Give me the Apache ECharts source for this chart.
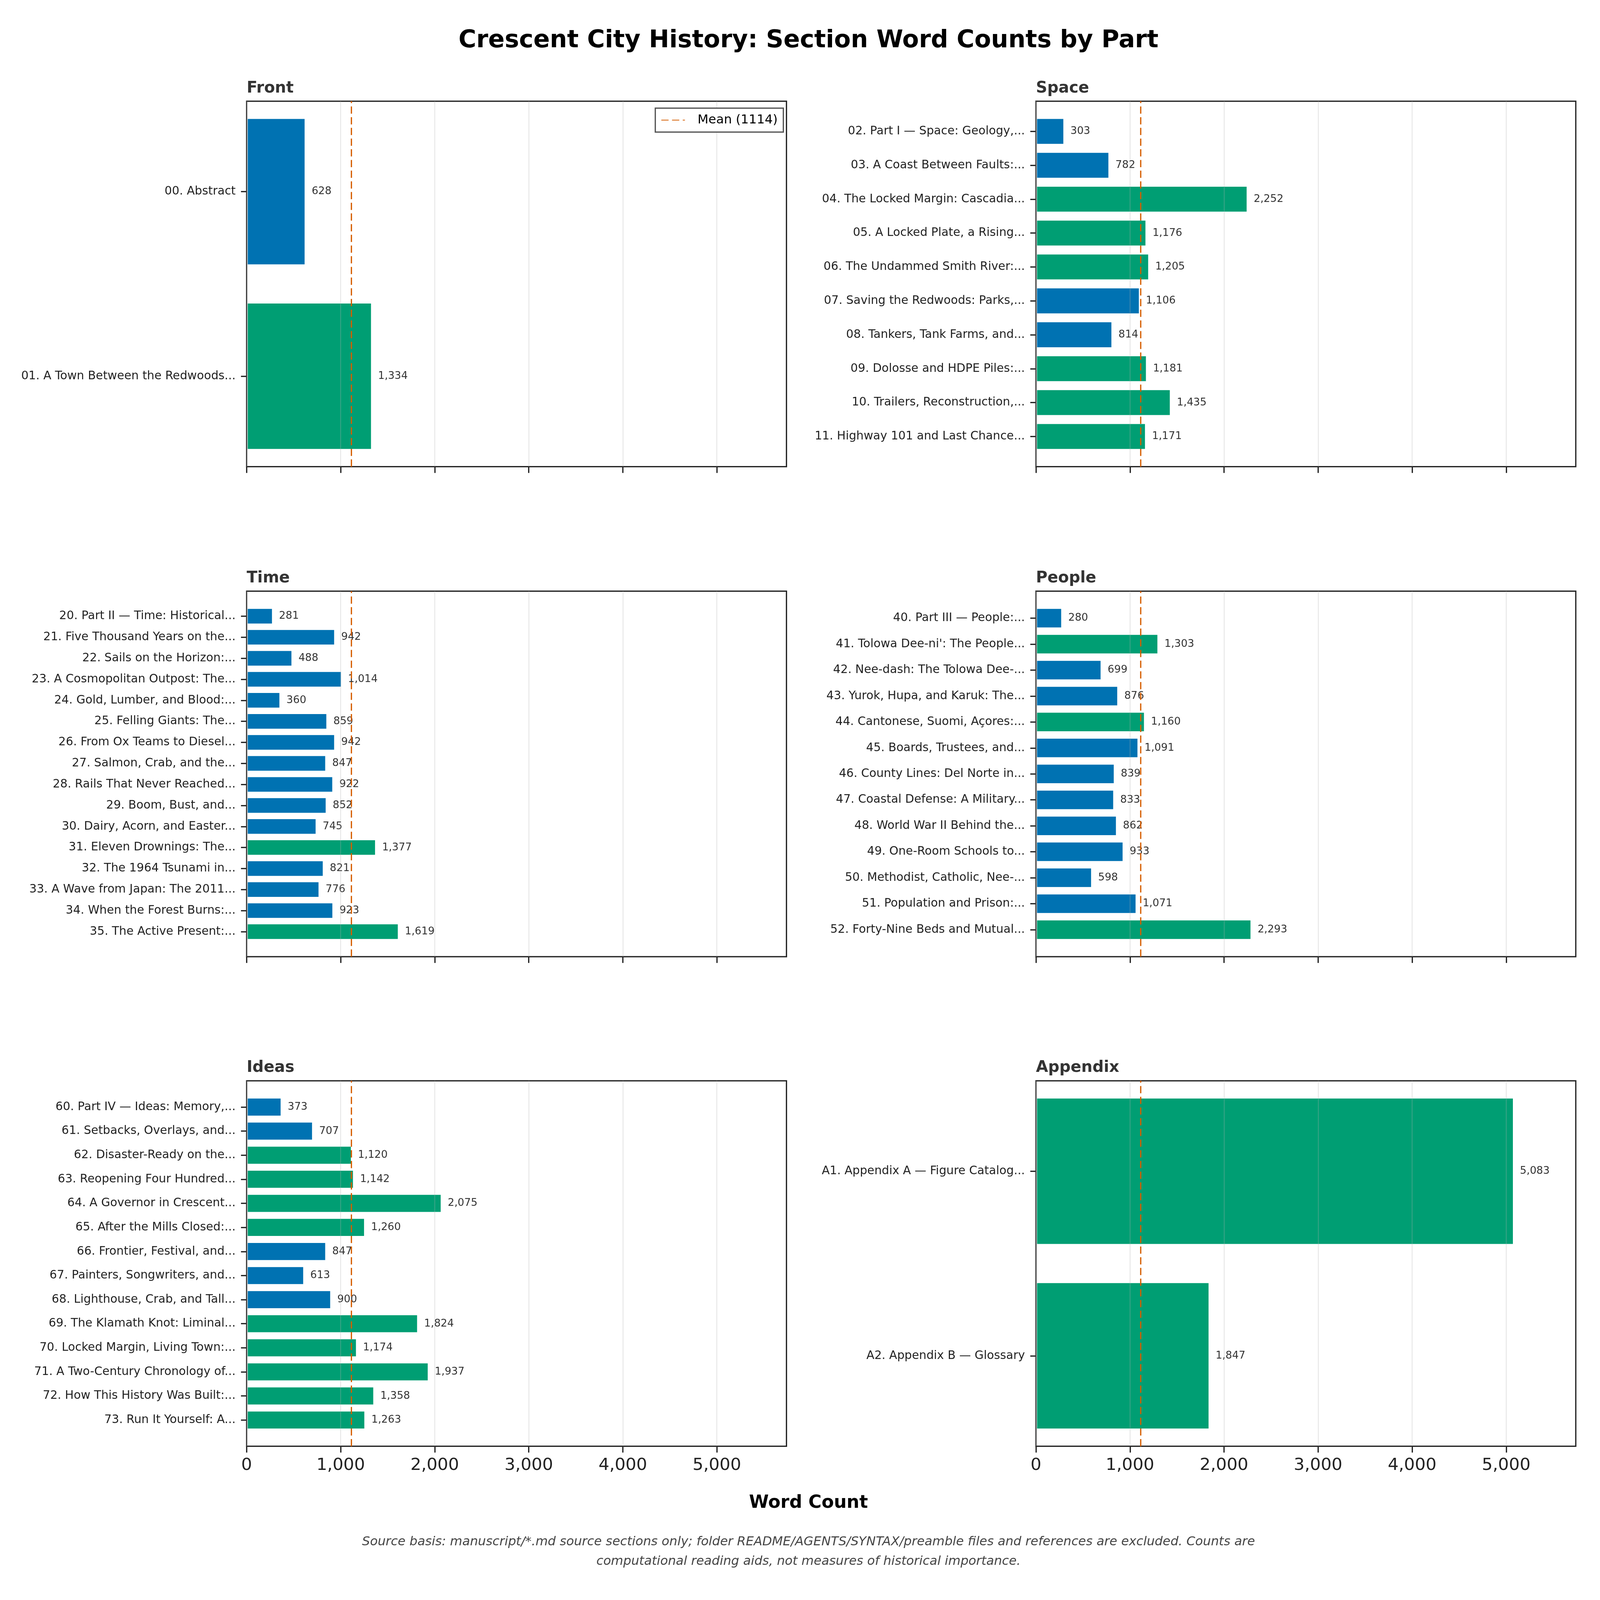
<!DOCTYPE html>
<html>
<head>
<meta charset="utf-8">
<script src="https://cdn.jsdelivr.net/npm/echarts@6/dist/echarts.min.js"></script>
<style>
html,body{margin:0;padding:0;background:#fff;overflow:hidden;}
#chart{width:100vw;height:100vh;}
</style>
</head>
<body>
<div id="chart"></div>
<script>
// ---------- DATA ----------
const PANEL_NAMES = ['Front', 'Space', 'Time', 'People', 'Ideas', 'Appendix'];

const FRONT_LABELS = ['00. Abstract', '01. A Town Between the Redwoods...'];
const FRONT_VALUES = [628, 1334];

const SPACE_LABELS = [
  '02. Part I \u2014 Space: Geology,...',
  '03. A Coast Between Faults:...',
  '04. The Locked Margin: Cascadia...',
  '05. A Locked Plate, a Rising...',
  '06. The Undammed Smith River:...',
  '07. Saving the Redwoods: Parks,...',
  '08. Tankers, Tank Farms, and...',
  '09. Dolosse and HDPE Piles:...',
  '10. Trailers, Reconstruction,...',
  '11. Highway 101 and Last Chance...'
];
const SPACE_VALUES = [303, 782, 2252, 1176, 1205, 1106, 814, 1181, 1435, 1171];

const TIME_LABELS = [
  '20. Part II \u2014 Time: Historical...',
  '21. Five Thousand Years on the...',
  '22. Sails on the Horizon:...',
  '23. A Cosmopolitan Outpost: The...',
  '24. Gold, Lumber, and Blood:...',
  '25. Felling Giants: The...',
  '26. From Ox Teams to Diesel...',
  '27. Salmon, Crab, and the...',
  '28. Rails That Never Reached...',
  '29. Boom, Bust, and...',
  '30. Dairy, Acorn, and Easter...',
  '31. Eleven Drownings: The...',
  '32. The 1964 Tsunami in...',
  '33. A Wave from Japan: The 2011...',
  '34. When the Forest Burns:...',
  '35. The Active Present:...'
];
const TIME_VALUES = [281, 942, 488, 1014, 360, 859, 942, 847, 922, 852, 745, 1377, 821, 776, 923, 1619];

const PEOPLE_LABELS = [
  '40. Part III \u2014 People:...',
  "41. Tolowa Dee-ni': The People...",
  '42. Nee-dash: The Tolowa Dee-...',
  '43. Yurok, Hupa, and Karuk: The...',
  '44. Cantonese, Suomi, A\u00e7ores:...',
  '45. Boards, Trustees, and...',
  '46. County Lines: Del Norte in...',
  '47. Coastal Defense: A Military...',
  '48. World War II Behind the...',
  '49. One-Room Schools to...',
  '50. Methodist, Catholic, Nee-...',
  '51. Population and Prison:...',
  '52. Forty-Nine Beds and Mutual...'
];
const PEOPLE_VALUES = [280, 1303, 699, 876, 1160, 1091, 839, 833, 862, 933, 598, 1071, 2293];

const IDEAS_LABELS = [
  '60. Part IV \u2014 Ideas: Memory,...',
  '61. Setbacks, Overlays, and...',
  '62. Disaster-Ready on the...',
  '63. Reopening Four Hundred...',
  '64. A Governor in Crescent...',
  '65. After the Mills Closed:...',
  '66. Frontier, Festival, and...',
  '67. Painters, Songwriters, and...',
  '68. Lighthouse, Crab, and Tall...',
  '69. The Klamath Knot: Liminal...',
  '70. Locked Margin, Living Town:...',
  '71. A Two-Century Chronology of...',
  '72. How This History Was Built:...',
  '73. Run It Yourself: A...'
];
const IDEAS_VALUES = [373, 707, 1120, 1142, 2075, 1260, 847, 613, 900, 1824, 1174, 1937, 1358, 1263];

const APPENDIX_LABELS = ['A1. Appendix A \u2014 Figure Catalog...', 'A2. Appendix B \u2014 Glossary'];
const APPENDIX_VALUES = [5083, 1847];

const MEAN = 1114;
const X_TICKS = [0, 1000, 2000, 3000, 4000, 5000];

const TITLE = 'Crescent City History: Section Word Counts by Part';
const X_TITLE = 'Word Count';
const FOOTER_1 = 'Source basis: manuscript/*.md source sections only; folder README/AGENTS/SYNTAX/preamble files and references are excluded. Counts are';
const FOOTER_2 = 'computational reading aids, not measures of historical importance.';

// ---------- LAYOUT / STYLE (reference pixel units, scaled to the viewport) ----------
const REF_W = 5086, REF_H = 4111;
const el = document.getElementById('chart');
const VW = el.clientWidth || window.innerWidth, VH = el.clientHeight || window.innerHeight;
const SX = VW / REF_W, SY = VH / REF_H, SF = Math.min(SX, SY);
const X = v => v * SX, Y = v => v * SY, F = v => v * SF;

const FONT = 'DejaVu Sans';
const BLUE = '#0072B2', GREEN = '#009E73', VERMILION = '#D55E00';
const X_MAX = 5740;
const COL_LEFT = [784, 3293];
const ROW_TOP = [260, 1519, 2777];
const PW = 1716, PH = 939;
const CENTER_X = 2570;

const PANELS = [
  {name: PANEL_NAMES[0], labels: FRONT_LABELS, values: FRONT_VALUES},
  {name: PANEL_NAMES[1], labels: SPACE_LABELS, values: SPACE_VALUES},
  {name: PANEL_NAMES[2], labels: TIME_LABELS, values: TIME_VALUES},
  {name: PANEL_NAMES[3], labels: PEOPLE_LABELS, values: PEOPLE_VALUES},
  {name: PANEL_NAMES[4], labels: IDEAS_LABELS, values: IDEAS_VALUES},
  {name: PANEL_NAMES[5], labels: APPENDIX_LABELS, values: APPENDIX_VALUES}
];

const fmt = v => String(Math.round(v)).replace(/\B(?=(\d{3})+(?!\d))/g, ',');
const MEAN_NAME = 'Mean (' + MEAN + ')';

const grids = [], xAxes = [], yAxes = [], series = [], graphics = [];

PANELS.forEach((p, i) => {
  const col = i % 2, row = Math.floor(i / 2);
  const left = COL_LEFT[col], top = ROW_TOP[row];
  const n = p.labels.length;
  const unit = PH / (1.1 * (n - 0.2));
  const innerH = n * unit;
  const innerTop = top + (PH - innerH) / 2;
  const isBottom = row === 2;
  const og = grids.length;

  grids.push({left: X(left), top: Y(top), width: X(PW), height: Y(PH), show: true,
    borderColor: '#222', borderWidth: F(4), backgroundColor: 'transparent', z: 3,
    containLabel: false, outerBoundsMode: 'none'});
  grids.push({left: X(left), top: Y(innerTop), width: X(PW), height: Y(innerH), show: false,
    containLabel: false, outerBoundsMode: 'none'});

  xAxes.push({type: 'value', gridIndex: og, min: 0, max: X_MAX, interval: 1000, z: 3,
    axisLine: {show: false},
    axisTick: {show: true, inside: false, length: F(20), lineStyle: {color: '#222', width: F(4)}, customValues: X_TICKS},
    axisLabel: {show: isBottom, customValues: X_TICKS, formatter: v => fmt(v), fontFamily: FONT, fontSize: F(54),
      color: '#222', margin: F(34)},
    splitLine: {show: true, lineStyle: {color: 'rgba(176,176,176,0.3)', width: F(3)}}
  });
  xAxes.push({type: 'value', gridIndex: og + 1, min: 0, max: X_MAX, show: false, splitLine: {show: false}});

  yAxes.push({type: 'value', gridIndex: og, min: 0, max: 1, show: false, splitLine: {show: false}});
  yAxes.push({type: 'category', gridIndex: og + 1, data: p.labels, inverse: true,
    axisLine: {show: false},
    axisTick: {show: true, alignWithLabel: true, inside: false, length: F(18), lineStyle: {color: '#222', width: F(4)}},
    axisLabel: {fontFamily: FONT, fontSize: F(37), color: '#222', margin: F(35)},
    splitLine: {show: false}
  });

  series.push({type: 'bar', xAxisIndex: og + 1, yAxisIndex: og + 1, data: p.values,
    barWidth: '80%', z: 2,
    itemStyle: {color: d => (d.value > MEAN ? GREEN : BLUE), borderColor: '#fff', borderWidth: F(3.5)},
    label: {show: true, position: 'right', distance: F(19), formatter: d => fmt(d.value),
      fontFamily: FONT, fontSize: F(33), color: '#333'},
    emphasis: {disabled: true}, animation: false
  });
  series.push({type: 'line', name: MEAN_NAME, xAxisIndex: og, yAxisIndex: og,
    data: [[MEAN, 0], [MEAN, 1]], symbol: 'none', z: 4, silent: true,
    lineStyle: {color: VERMILION, width: F(4), type: [F(23), F(11)]},
    itemStyle: {color: VERMILION}, animation: false
  });

  graphics.push({type: 'text', x: X(left), y: Y(top - 33),
    style: {text: p.name, fontFamily: FONT, fontSize: F(50), fontWeight: 'bold', fill: '#333',
      align: 'left', verticalAlign: 'middle', textAlign: 'left', textVerticalAlign: 'middle'}});
});

const centerText = (txt, y, size, weight, styleName, color) => ({type: 'text', x: X(CENTER_X), y: Y(y),
  style: {text: txt, fontFamily: FONT, fontSize: F(size), fontWeight: weight, fontStyle: styleName, fill: color,
    align: 'center', verticalAlign: 'middle', textAlign: 'center', textVerticalAlign: 'middle'}});
graphics.push(centerText(TITLE, 105, 77, 'bold', 'normal', '#000'));
graphics.push(centerText(X_TITLE, 3862, 57, 'bold', 'normal', '#000'));
graphics.push(centerText(FOOTER_1, 3962, 40, 'normal', 'italic', '#444'));
graphics.push(centerText(FOOTER_2, 4012, 40, 'normal', 'italic', '#444'));

const chart = echarts.init(el, null, {renderer: 'canvas'});
chart.setOption({
  backgroundColor: '#fff',
  animation: false,
  textStyle: {fontFamily: FONT},
  grid: grids,
  xAxis: xAxes,
  yAxis: yAxes,
  series: series,
  legend: {
    data: [MEAN_NAME], left: X(2083), top: Y(278), orient: 'horizontal',
    padding: [F(16), F(18), F(16), F(18)], backgroundColor: 'rgba(255,255,255,0.9)',
    borderColor: '#555', borderWidth: F(4), borderRadius: 0,
    itemWidth: F(75), itemHeight: F(4), selectedMode: false,
    itemStyle: {color: 'rgba(0,0,0,0)', borderWidth: 0, opacity: 0},
    textStyle: {fontFamily: FONT, fontSize: F(40), lineHeight: F(44), color: '#000', padding: [0, 0, 0, F(34)]}
  },
  graphic: {elements: graphics}
});
</script>
</body>
</html>
